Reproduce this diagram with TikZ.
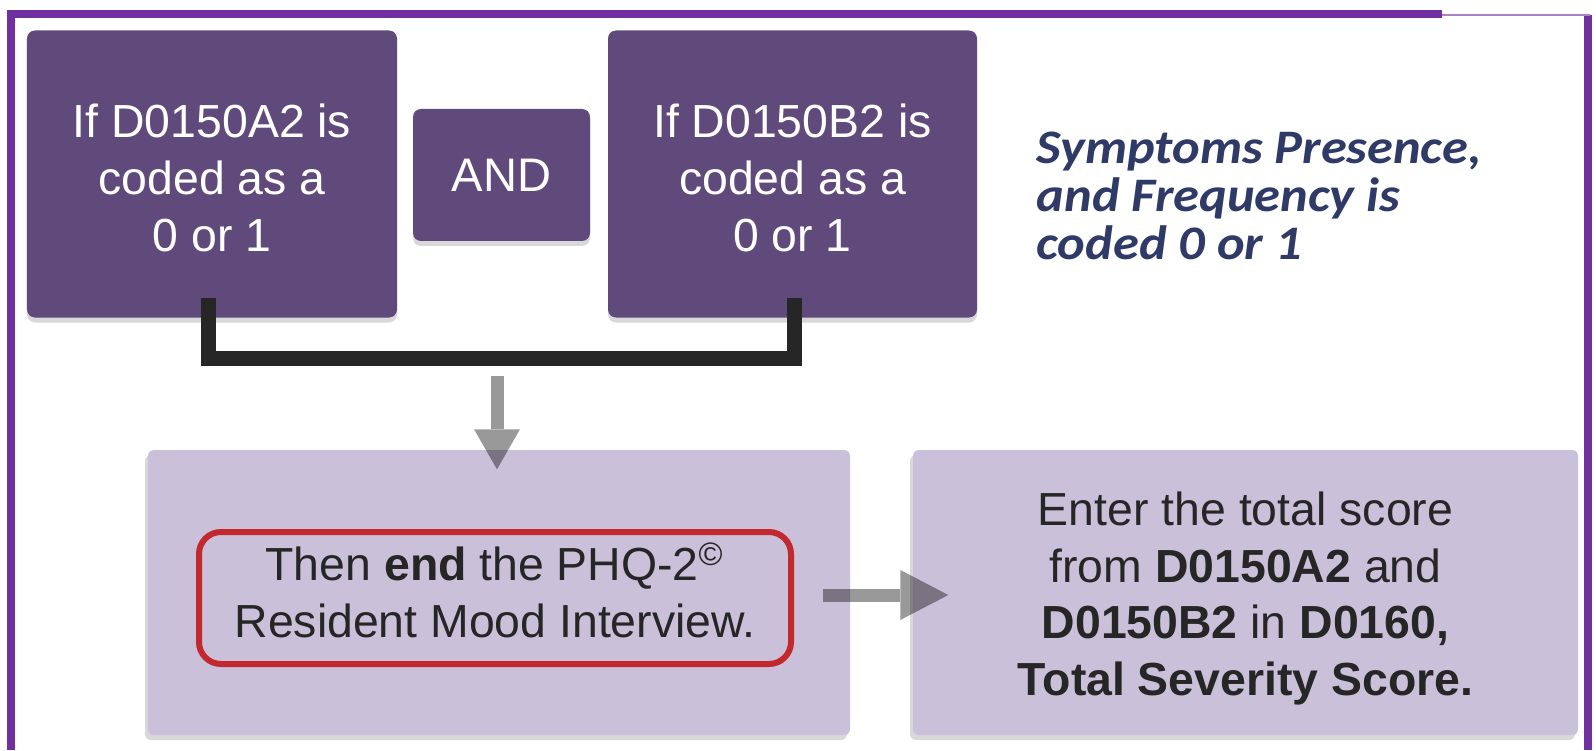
\documentclass[tikz,border=0pt]{standalone}
\usepackage{fontspec}
\setmainfont{Liberation Sans}
\newfontfamily\notefont[FakeStretch=1.09]{Carlito}
\usetikzlibrary{arrows.meta,shadows,calc}

\definecolor{framepurple}{RGB}{112,48,160}
\definecolor{boxpurple}{RGB}{96,74,123}
\definecolor{boxlilac}{RGB}{202,192,218}
\definecolor{endred}{RGB}{194,40,46}
\definecolor{notenavy}{RGB}{47,58,102}
\definecolor{textdark}{RGB}{38,38,38}

\tikzset{
    darkbox/.style={fill=boxpurple, rounded corners=0.08cm, inner sep=0pt, text=white, align=center,
        font=\fontsize{13.4}{16.2}\selectfont,
        drop shadow={opacity=0.3, shadow xshift=0pt, shadow yshift=-0.05cm}},
    lilacbox/.style={fill=boxlilac, rounded corners=0.06cm, inner sep=0pt,
        drop shadow={opacity=0.3, shadow xshift=-0.03cm, shadow yshift=-0.05cm}},
    boxtext/.style={inner sep=0pt, text=textdark, align=center, font=\fontsize{13.2}{16.2}\selectfont},
    redbox/.style={draw=endred, line width=0.06cm, rounded corners=0.22cm, inner sep=0pt},
    bracket/.style={draw=textdark, line width=0.15cm, line join=miter, line cap=butt},
    bigarrow/.style={line width=0.13cm, color=black, draw opacity=0.4, fill opacity=0.4, line cap=butt},
    frameline/.style={draw=framepurple, line width=0.08cm, line join=miter}
}

\begin{document}
\begin{tikzpicture}
    \fill[white] (0,0) rectangle (15.96,7.50);
    \useasboundingbox (0,0) rectangle (15.96,7.50);

    % outer frame
    \draw[frameline] (0.11,0) -- (0.11,7.36) -- (14.42,7.36);
    \draw[frameline] (15.88,0) -- (15.88,7.35);
    \draw[framepurple!60, line width=0.02cm] (14.42,7.35) -- (15.90,7.35);

    % top row
    \node[darkbox, minimum width=3.70cm, minimum height=2.87cm] (codeA) at (2.12,5.76) {};
    \node[darkbox, minimum width=1.77cm, minimum height=1.32cm] (andBox) at (5.015,5.75) {AND};
    \node[darkbox, minimum width=3.69cm, minimum height=2.87cm] (codeB) at (7.925,5.76) {};
    \node[boxtext, text=white] (codeAText) at ($(codeA)+(0,-0.035)$) {If D0150A2 is\\coded as a\\0 or 1};
    \node[boxtext, text=white] (codeBText) at ($(codeB)+(0,-0.035)$) {If D0150B2 is\\coded as a\\0 or 1};
    \node[anchor=west, align=left, text=notenavy, inner sep=0pt,
        font=\notefont\bfseries\itshape\fontsize{13.7}{13.7}\selectfont] (note) at (10.36,5.54)
        {Symptoms Presence,\\and Frequency is\\coded 0 or 1};

    % bottom row
    \node[lilacbox, minimum width=7.02cm, minimum height=2.85cm] (endBox) at (4.99,1.575) {};
    \node[redbox, minimum width=5.92cm, minimum height=1.32cm] (endRed) at (4.95,1.52) {};
    \node[boxtext] (endText) at ($(endRed)+(0,0.075)$)
        {Then \textbf{end} the PHQ-2\textsuperscript{\textcopyright}\\Resident Mood Interview.};
    \node[lilacbox, minimum width=6.65cm, minimum height=2.85cm] (totalBox) at (12.455,1.575) {};
    \node[boxtext] (totalText) at ($(totalBox)+(0,-0.06)$)
        {Enter the total score\\from \textbf{D0150A2} and\\\textbf{D0150B2} in \textbf{D0160,}\\\textbf{Total Severity Score.}};

    % connectors
    \draw[bracket] ($(codeA.south)+(-0.04,0.2)$) -- ++(0,-0.6) -| ($(codeB.south)+(0.015,0.2)$);
    \coordinate (dropTop) at ($(endBox.north)+(-0.02,0.73)$);
    \draw[bigarrow, -{Triangle[width=0.46cm, length=0.40cm, line width=0pt]}] (dropTop) -- ($(endBox.north)+(-0.02,-0.2)$);
    \coordinate (sideStart) at ($(endBox.east)+(-0.28,-0.025)$);
    \draw[bigarrow, -{Triangle[width=0.50cm, length=0.48cm, line width=0pt]}] (sideStart) -- ($(totalBox.west)+(0.36,-0.025)$);
\end{tikzpicture}
\end{document}
